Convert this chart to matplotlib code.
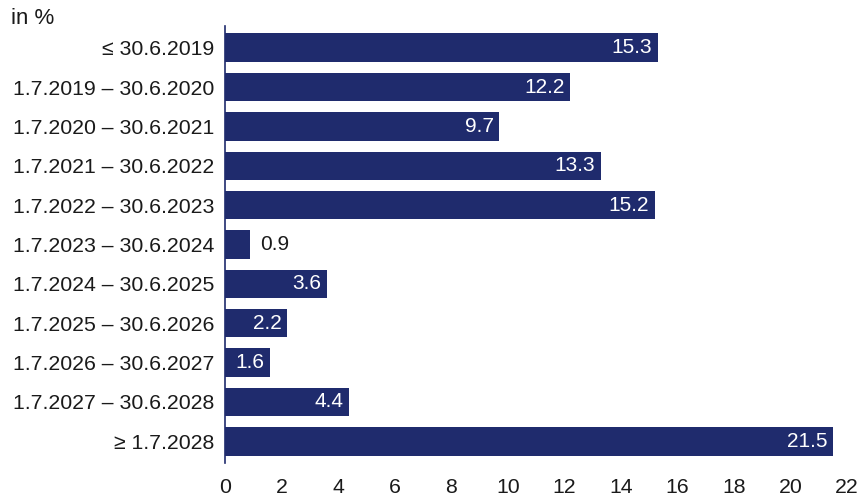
import matplotlib
matplotlib.use("Agg")
import matplotlib.pyplot as plt

categories = ["≤ 30.6.2019", "1.7.2019 – 30.6.2020", "1.7.2020 – 30.6.2021",
              "1.7.2021 – 30.6.2022", "1.7.2022 – 30.6.2023", "1.7.2023 – 30.6.2024",
              "1.7.2024 – 30.6.2025", "1.7.2025 – 30.6.2026", "1.7.2026 – 30.6.2027",
              "1.7.2027 – 30.6.2028", "≥ 1.7.2028"]
values = [15.3, 12.2, 9.7, 13.3, 15.2, 0.9, 3.6, 2.2, 1.6, 4.4, 21.5]
xticks = [0, 2, 4, 6, 8, 10, 12, 14, 16, 18, 20, 22]

plt.rcParams['font.family'] = ['Liberation Sans', 'DejaVu Sans']
navy = "#1f2b6d"

fig = plt.figure(figsize=(8.58, 4.96), dpi=100)
ax = fig.add_axes([225/858, 1-463/496, (847-225)/858, (463-26)/496])

y = list(range(len(categories)))
ax.barh(y, values, height=0.72, color=navy)
ax.set_ylim(len(categories)-0.45, -0.55)
ax.set_xlim(0, 22)
ax.set_yticks(y)
ax.set_yticklabels(categories, fontsize=15.3, color="#1a1a1a")
ax.set_xticks(xticks)
ax.set_xticklabels([str(t) for t in xticks], fontsize=15.3, color="#1a1a1a")
ax.tick_params(axis='both', length=0, pad=8)
ax.tick_params(axis='x', pad=11)
for s in ["top", "right", "bottom"]:
    ax.spines[s].set_visible(False)
ax.spines["left"].set_color(navy)
ax.spines["left"].set_linewidth(1.2)

for yi, v in zip(y, values):
    if v < 1.5:
        ax.annotate(f"{v}", (v, yi), xytext=(7, 0), textcoords="offset points",
                    ha="left", va="center", fontsize=15, color="#1a1a1a")
    else:
        ax.annotate(f"{v}", (v, yi), xytext=(-4, 0), textcoords="offset points",
                    ha="right", va="center", fontsize=15, color="white")

fig.text(11/858, 1-19/496, "in %", fontsize=16, color="#1a1a1a", ha="left", va="center")

fig.savefig("out.png", dpi=100)
